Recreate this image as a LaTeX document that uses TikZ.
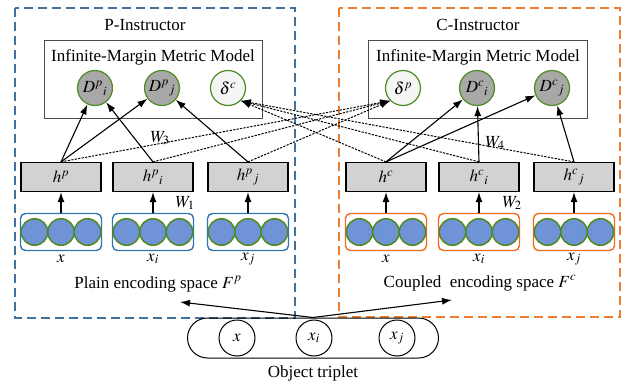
\documentclass[tikz,border=0pt]{standalone}
\usepackage{amsmath}
\usepackage{mathptmx}
\usepackage[no-math]{fontspec}
\setmainfont{Liberation Serif}
\usepackage{color,xcolor}
\usetikzlibrary{arrows.meta}

\definecolor{pframe}{HTML}{41719C}
\definecolor{cframe}{HTML}{ED7D31}
\definecolor{pgroup}{HTML}{2E75B6}
\definecolor{cgroup}{HTML}{EE6A1F}
\definecolor{unitblue}{HTML}{7092D6}
\definecolor{ringgreen}{HTML}{4F8A1F}
\definecolor{dgray}{HTML}{A8A8A8}
\definecolor{hgray}{HTML}{D2D2D2}

\begin{document}
\begin{tikzpicture}[x=1pt,y=-1pt,font=\fontsize{17}{20}\selectfont,
    frame/.style={line width=1.4pt,dash pattern=on 9pt off 5pt},
    hbox/.style={draw,fill=hgray,line width=1.2pt,minimum width=80,minimum height=29,inner sep=0},
    dnode/.style={circle,draw=ringgreen,fill=dgray,line width=1.2pt,minimum size=35,inner sep=0},
    snode/.style={circle,draw=ringgreen,fill=gray!8,line width=1.2pt,minimum size=35,inner sep=0},
    unit/.style={circle,draw=ringgreen,fill=unitblue,line width=1.5pt,minimum size=26.5,inner sep=0},
    grp/.style={rounded corners=5,line width=1.4pt,minimum width=81,minimum height=37,inner sep=0},
    obj/.style={circle,draw,line width=1pt,minimum size=36,inner sep=0},
    arr/.style={line width=1.1pt,-{Latex[length=10pt,width=7pt]}},
    dotarr/.style={line width=1pt,dash pattern=on 2.2pt off 1.3pt,-{Latex[length=10pt,width=7pt]}}]
    \useasboundingbox (0,0) rectangle (627,383);

    % 两个虚线外框
    \draw[frame,pframe] (15,8) rectangle (295,318);
    \draw[frame,cframe] (339,8) rectangle (620,317);
    \node (ptitle) at (145,25) {P-Instructor};
    \node (ctitle) at (478,25) {C-Instructor};

    % 度量模型
    \draw[black!70,line width=0.8pt] (44,40) rectangle (262,118);
    \draw[black!70,line width=0.8pt] (368,40) rectangle (587,118);
    \node (pmodel) at (153,57) {Infinite-Margin Metric Model};
    \node (cmodel) at (478,57) {Infinite-Margin Metric Model};

    \node[dnode] (dpi) at (95,88) {$D^{p}{}_{i}$};
    \node[dnode] (dpj) at (162,88) {$D^{p}{}_{j}$};
    \node[snode] (sc) at (228,88) {$\delta^{c}$};
    \node[snode] (sp) at (403,88) {$\delta^{p}$};
    \node[dnode] (dci) at (477,88) {$D^{c}{}_{i}$};
    \node[dnode] (dcj) at (552,88) {$D^{c}{}_{j}$};

    % 隐层
    \node[hbox] (hp) at (61,177) {$h^{p}$};
    \node[hbox] (hpi) at (153,177) {$h^{p}{}_{i}$};
    \node[hbox] (hpj) at (248,177) {$h^{p}{}_{j}$};
    \node[hbox] (hc) at (386,177) {$h^{c}$};
    \node[hbox] (hci) at (479,177) {$h^{c}{}_{i}$};
    \node[hbox] (hcj) at (574,177) {$h^{c}{}_{j}$};

    % 编码层
    \foreach \g/\cx/\col/\h in {gx/61/pgroup/hp, gxi/153/pgroup/hpi, gxj/248/pgroup/hpj,
                                cx/386/cgroup/hc, cxi/479/cgroup/hci, cxj/574/cgroup/hcj} {
        \node[grp,draw=\col] (\g) at (\cx,232) {};
        \foreach \d/\n in {-26.5/a,0/b,26.5/c}
            \node[unit] (\g\n) at (\cx+\d,232) {};
        \draw[arr] (\g.north) -- (\h.south);
    }
    \node (lx) at (61,259) {$x$};
    \node (lxi) at (153,259) {$x_{i}$};
    \node (lxj) at (248,259) {$x_{j}$};
    \node (rx) at (386,259) {$x$};
    \node (rxi) at (479,259) {$x_{i}$};
    \node (rxj) at (574,259) {$x_{j}$};
    \node (pspace) at (158,284) {Plain encoding space $F^{p}$};
    \node (cspace) at (480,283) {Coupled\ \ encoding space $F^{c}$};

    \node (w1) at (185,203) {$W_{1}$};
    \node (w2) at (512,203) {$W_{2}$};
    \node (w3) at (160,138) {$W_{3}$};
    \node (w4) at (495,143) {$W_{4}$};

    % 实线箭头
    \draw[arr] (hp.north) -- (dpi);
    \draw[arr] (hp.north) -- (dpj);
    \draw[arr] (hpi.north) -- (dpi);
    \draw[arr] (hpj.north) -- (dpj);
    \draw[arr] (hc.north) -- (dci);
    \draw[arr] (hc.north) -- (dcj);
    \draw[arr] (hci.north) -- (dci);
    \draw[arr] (hcj.north) -- (dcj);

    % 虚线箭头
    \foreach \h in {hp,hpi,hpj}
        \draw[dotarr] (\h.north) -- (sp.south west);
    \foreach \h in {hc,hci,hcj}
        \draw[dotarr] (\h.north) -- (sc.south east);

    % 三元组
    \node[draw,line width=1pt,rounded corners=20,minimum width=251,minimum height=40] (trip) at (313,338) {};
    \node[obj] (ox) at (237,338) {$x$};
    \node[obj] (oxi) at (314,338) {$x_{i}$};
    \node[obj] (oxj) at (397,338) {$x_{j}$};
    \node (tlabel) at (313,373) {Object triplet};
    \coordinate (pin) at (180,302);
    \coordinate (cin) at (452,300);
    \draw[arr] (trip.north) -- (pin);
    \draw[arr] (trip.north) -- (cin);
\end{tikzpicture}
\end{document}
